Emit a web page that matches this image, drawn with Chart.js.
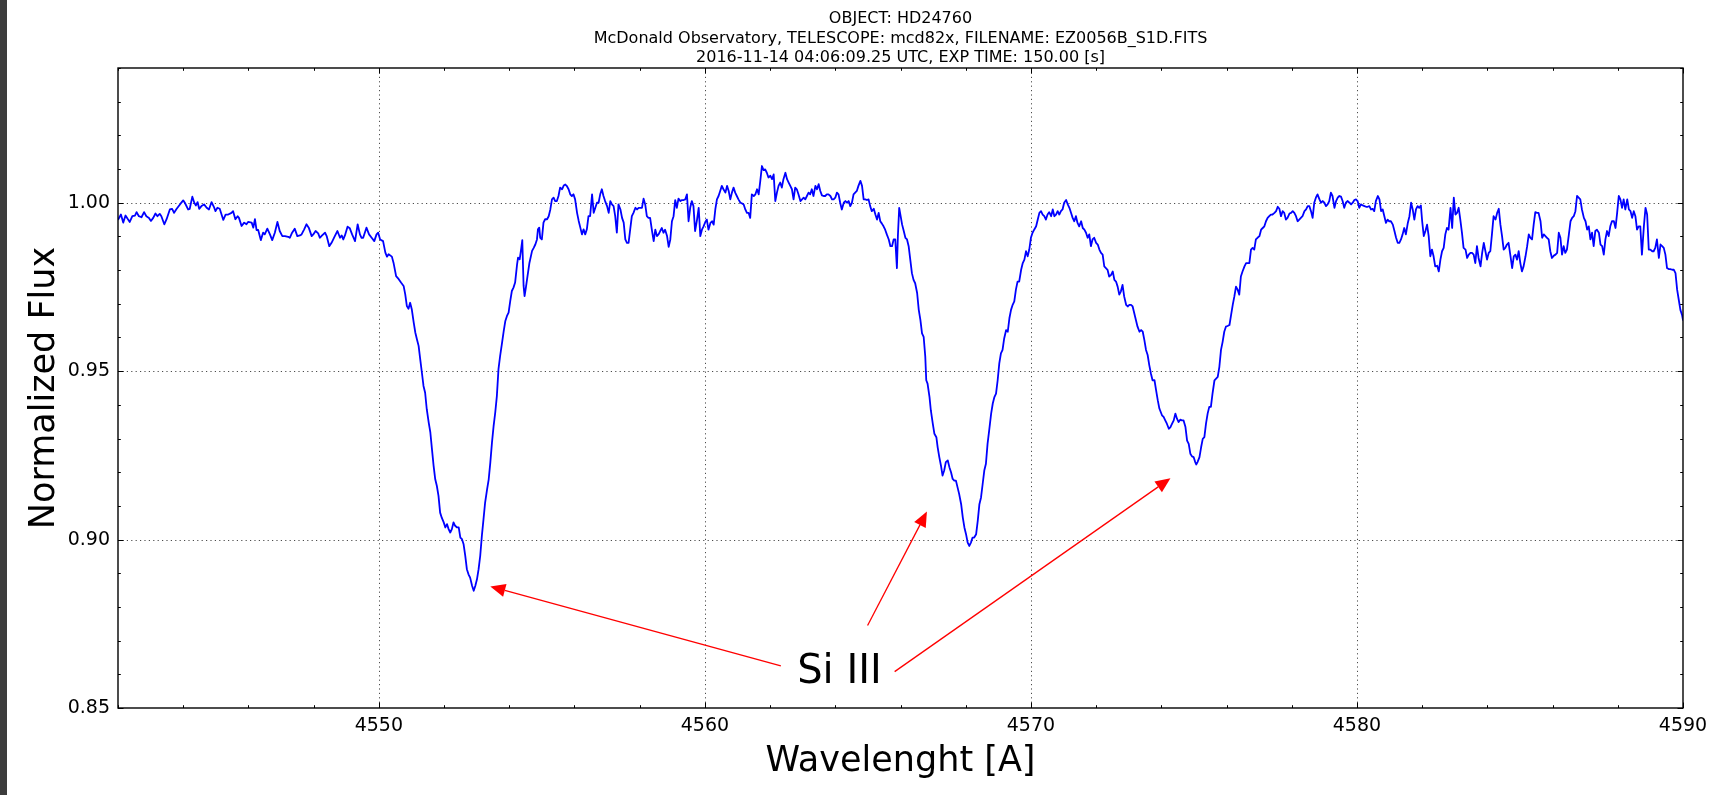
<!DOCTYPE html>
<html><head><meta charset="utf-8">
<script src="https://cdn.jsdelivr.net/npm/chart.js@4.4.0/dist/chart.umd.min.js"></script>
<style>
html,body{margin:0;padding:0;background:#fff;overflow:hidden}
#wrap{position:relative;width:1727px;height:795px}
#strip{position:absolute;left:0;top:0;width:7px;height:795px;background:#3c3c3c}
canvas{position:absolute;left:0;top:0}
</style></head>
<body><div id="wrap"><canvas id="c" width="1727" height="795"></canvas><div id="strip"></div></div>
<script>
// ---------------- DATA ----------------
const wavelengthSeg1 = [4542.01,4542.09,4542.16,4542.23,4542.29,4542.36,4542.44,4542.52,4542.57,4542.64,4542.72,4542.80,4542.87,4542.95,4543.01,4543.08,4543.15,4543.21,4543.28,4543.33,4543.42,4543.49,4543.59,4543.66,4543.72,4543.80,4543.90,4544.00,4544.05,4544.15,4544.20,4544.28,4544.34,4544.39,4544.44,4544.49,4544.56,4544.64,4544.72,4544.79,4544.87,4544.94,4544.99,4545.05,4545.12,4545.23,4545.30,4545.38,4545.48,4545.53,4545.60,4545.67,4545.71,4545.79,4545.87,4545.94,4545.99,4546.10,4546.15,4546.20,4546.25,4546.30,4546.38,4546.45,4546.50,4546.58,4546.66,4546.73,4546.81,4546.89,4546.96,4547.04,4547.12,4547.22,4547.27,4547.34,4547.42,4547.50,4547.58,4547.63,4547.71,4547.78,4547.85,4547.94,4547.99,4548.06,4548.14,4548.19,4548.26,4548.35,4548.40,4548.48,4548.55,4548.65,4548.73,4548.81,4548.86,4548.91,4548.96,4549.04,4549.11,4549.18,4549.27,4549.35,4549.42,4549.47,4549.52,4549.62,4549.70,4549.78,4549.86,4549.93,4549.98];
const fluxSeg1 = [0.9951,0.9965,0.9941,0.9962,0.9953,0.9943,0.9960,0.9962,0.9972,0.9960,0.9957,0.9972,0.9960,0.9955,0.9946,0.9955,0.9968,0.9960,0.9967,0.9960,0.9936,0.9951,0.9980,0.9982,0.9970,0.9982,0.9995,1.0007,1.0000,0.9980,0.9982,1.0018,1.0000,0.9992,1.0002,0.9982,0.9990,0.9995,0.9985,0.9980,1.0002,0.9988,0.9975,0.9985,0.9982,0.9949,0.9965,0.9965,0.9970,0.9975,0.9951,0.9960,0.9955,0.9931,0.9941,0.9936,0.9943,0.9941,0.9926,0.9951,0.9919,0.9919,0.9889,0.9911,0.9906,0.9923,0.9906,0.9889,0.9911,0.9943,0.9916,0.9901,0.9901,0.9899,0.9896,0.9911,0.9923,0.9901,0.9903,0.9906,0.9921,0.9936,0.9926,0.9901,0.9906,0.9916,0.9909,0.9896,0.9903,0.9911,0.9901,0.9871,0.9881,0.9901,0.9916,0.9896,0.9903,0.9891,0.9903,0.9929,0.9924,0.9906,0.9886,0.9936,0.9906,0.9896,0.9896,0.9926,0.9906,0.9896,0.9886,0.9906,0.9911];

const wavelengthSeg2 = [4550.04,4550.13,4550.20,4550.25,4550.30,4550.40,4550.45,4550.53,4550.61,4550.68,4550.76,4550.81,4550.86,4550.91,4550.96,4551.01,4551.07,4551.12,4551.17,4551.22,4551.27,4551.32,4551.37,4551.42,4551.47,4551.53,4551.58,4551.63,4551.68,4551.73,4551.78,4551.83,4551.88,4551.93,4551.99,4552.04,4552.09,4552.14,4552.19,4552.24,4552.29,4552.34,4552.40,4552.45,4552.50,4552.55,4552.60,4552.65,4552.70,4552.75,4552.80,4552.86,4552.91,4552.96,4553.01,4553.06,4553.11,4553.16,4553.21,4553.26,4553.32,4553.37,4553.42,4553.47,4553.52,4553.57,4553.62,4553.67,4553.72,4553.78,4553.83,4553.88,4553.93,4553.98,4554.03,4554.08,4554.13,4554.18,4554.24,4554.27,4554.32,4554.37,4554.40,4554.44,4554.47,4554.51,4554.56,4554.62,4554.70,4554.75,4554.80,4554.85,4554.88,4554.92,4554.95,4555.00,4555.05,4555.10,4555.16,4555.21,4555.26,4555.31,4555.36,4555.41,4555.46,4555.51,4555.56,4555.62,4555.67,4555.72,4555.77,4555.82,4555.87,4555.92,4555.97,4556.02,4556.08,4556.13,4556.18,4556.23,4556.28,4556.33,4556.38,4556.43,4556.48,4556.54,4556.59,4556.64,4556.69,4556.74,4556.79,4556.84,4556.89,4556.94,4557.00,4557.05,4557.10,4557.15,4557.20,4557.25,4557.30,4557.35,4557.41,4557.46,4557.51,4557.56,4557.61,4557.66,4557.71,4557.76,4557.81,4557.87,4557.92,4557.97];
const fluxSeg2 = [0.9891,0.9886,0.9852,0.9840,0.9847,0.9840,0.9822,0.9782,0.9773,0.9763,0.9753,0.9728,0.9693,0.9685,0.9703,0.9684,0.9644,0.9614,0.9594,0.9575,0.9535,0.9496,0.9456,0.9436,0.9387,0.9347,0.9318,0.9268,0.9219,0.9179,0.9159,0.9130,0.9080,0.9065,0.9051,0.9036,0.9046,0.9031,0.9021,0.9031,0.9051,0.9041,0.9036,0.9036,0.9006,0.9001,0.8986,0.8952,0.8912,0.8897,0.8887,0.8863,0.8848,0.8863,0.8882,0.8912,0.8952,0.9011,0.9060,0.9110,0.9149,0.9179,0.9229,0.9288,0.9337,0.9377,0.9426,0.9506,0.9545,0.9585,0.9619,0.9649,0.9664,0.9674,0.9708,0.9738,0.9748,0.9763,0.9817,0.9837,0.9832,0.9866,0.9889,0.9753,0.9723,0.9748,0.9782,0.9822,0.9857,0.9866,0.9876,0.9891,0.9921,0.9926,0.9896,0.9891,0.9941,0.9951,0.9951,0.9960,0.9980,1.0010,1.0015,1.0005,1.0005,1.0020,1.0045,1.0040,1.0051,1.0054,1.0049,1.0040,1.0025,1.0020,1.0025,1.0010,0.9970,0.9946,0.9926,0.9906,0.9921,0.9906,0.9921,0.9960,0.9960,1.0025,0.9970,0.9985,1.0000,1.0000,1.0025,1.0040,1.0020,1.0005,0.9990,0.9970,1.0005,0.9995,0.9990,0.9960,0.9911,0.9995,0.9980,0.9955,0.9941,0.9891,0.9881,0.9881,0.9921,0.9960,0.9970,0.9985,0.9980,0.9985];

const wavelengthSeg3 = [4558.07,4558.12,4558.17,4558.22,4558.27,4558.32,4558.38,4558.43,4558.48,4558.53,4558.58,4558.63,4558.68,4558.73,4558.78,4558.84,4558.89,4558.94,4558.99,4559.04,4559.09,4559.14,4559.19,4559.25,4559.30,4559.35,4559.40,4559.45,4559.50,4559.55,4559.60,4559.65,4559.70,4559.76,4559.81,4559.86,4559.91,4559.96,4560.01,4560.06,4560.11,4560.17,4560.22,4560.27,4560.32,4560.37,4560.42,4560.47,4560.52,4560.57,4560.63,4560.68,4560.73,4560.78,4560.83,4560.88,4560.93,4560.98,4561.03,4561.09,4561.14,4561.19,4561.24,4561.29,4561.34,4561.39,4561.44,4561.50,4561.55,4561.60,4561.65,4561.70,4561.75,4561.80,4561.85,4561.90,4561.95,4562.01,4562.06,4562.11,4562.16,4562.21,4562.26,4562.31,4562.36,4562.41,4562.47,4562.52,4562.57,4562.62,4562.67,4562.72,4562.77,4562.82,4562.87,4562.93,4562.98,4563.03,4563.08,4563.13,4563.18,4563.23,4563.28,4563.33,4563.39,4563.44,4563.49,4563.54,4563.59,4563.64,4563.69,4563.74,4563.79,4563.85,4563.90,4563.95,4564.00,4564.05,4564.10,4564.15,4564.20,4564.26,4564.31,4564.36,4564.41,4564.46,4564.51,4564.56,4564.61,4564.66,4564.71,4564.77,4564.82,4564.87,4564.92,4564.97,4565.02,4565.07,4565.12,4565.18,4565.23,4565.28,4565.33,4565.38,4565.43,4565.48,4565.53,4565.58,4565.64,4565.69,4565.74,4565.79,4565.84,4565.89,4565.92,4565.96];
const fluxSeg3 = [0.9985,1.0012,0.9995,0.9960,0.9955,0.9955,0.9916,0.9886,0.9920,0.9901,0.9906,0.9916,0.9925,0.9911,0.9920,0.9901,0.9869,0.9891,0.9945,0.9960,1.0008,0.9985,1.0012,1.0005,1.0008,1.0008,1.0010,1.0025,0.9945,0.9985,1.0005,0.9990,0.9916,0.9950,0.9985,0.9901,0.9920,0.9930,0.9942,0.9950,0.9920,0.9940,0.9945,0.9935,0.9980,1.0010,1.0020,1.0035,1.0050,1.0040,1.0030,1.0050,1.0035,1.0010,1.0030,1.0045,1.0030,1.0020,1.0010,1.0000,0.9998,0.9995,0.9980,0.9970,0.9970,0.9955,1.0025,1.0020,1.0025,1.0040,1.0025,1.0065,1.0109,1.0097,1.0099,1.0089,1.0075,1.0080,1.0070,1.0084,1.0005,1.0030,1.0050,1.0060,1.0045,1.0070,1.0089,1.0070,1.0060,1.0050,1.0040,1.0010,1.0045,1.0040,1.0025,1.0005,1.0010,1.0015,1.0010,1.0020,1.0030,1.0025,1.0040,1.0020,1.0050,1.0040,1.0055,1.0035,1.0022,1.0020,1.0020,1.0025,1.0025,1.0020,1.0010,1.0010,1.0015,1.0030,1.0025,1.0000,0.9980,1.0000,1.0005,1.0000,1.0005,0.9990,1.0000,1.0025,1.0030,1.0035,1.0050,1.0065,1.0050,1.0010,1.0010,1.0008,1.0010,0.9990,0.9975,0.9982,0.9965,0.9950,0.9970,0.9945,0.9938,0.9930,0.9920,0.9906,0.9891,0.9871,0.9871,0.9891,0.9891,0.9806,0.9901,0.9985];

const wavelengthSeg4 = [4566.05,4566.10,4566.15,4566.20,4566.25,4566.30,4566.35,4566.40,4566.45,4566.51,4566.56,4566.61,4566.66,4566.71,4566.76,4566.79,4566.83,4566.89,4566.93,4566.99,4567.04,4567.10,4567.14,4567.19,4567.24,4567.29,4567.34,4567.39,4567.45,4567.50,4567.55,4567.60,4567.65,4567.70,4567.75,4567.80,4567.86,4567.91,4567.96,4568.01,4568.06,4568.11,4568.16,4568.21,4568.26,4568.32,4568.37,4568.42,4568.47,4568.52,4568.57,4568.62,4568.67,4568.72,4568.78,4568.83,4568.88,4568.93,4568.98,4569.03,4569.08,4569.13,4569.18,4569.24,4569.29,4569.34,4569.39,4569.44,4569.49,4569.54,4569.59,4569.64,4569.70,4569.75,4569.80,4569.85,4569.90,4569.95,4570.00,4570.05,4570.10,4570.16,4570.21,4570.26,4570.31,4570.36,4570.41,4570.46,4570.51,4570.56,4570.62,4570.67,4570.72,4570.77,4570.82,4570.87,4570.92,4570.97,4571.02,4571.08,4571.13,4571.18,4571.23,4571.28,4571.33,4571.38,4571.43,4571.48,4571.54,4571.59,4571.64,4571.69,4571.74,4571.79,4571.84,4571.89,4571.94,4572.00,4572.05,4572.10,4572.15,4572.20,4572.25,4572.30,4572.35,4572.40,4572.46,4572.51,4572.56,4572.61,4572.66,4572.71,4572.76,4572.81,4572.86,4572.92,4572.97,4573.02,4573.07,4573.12,4573.17,4573.22,4573.27,4573.33,4573.38,4573.43,4573.48,4573.53,4573.58,4573.63,4573.68,4573.73,4573.79,4573.84,4573.89,4573.94];
const fluxSeg4 = [0.9935,0.9916,0.9896,0.9891,0.9871,0.9831,0.9791,0.9771,0.9761,0.9732,0.9682,0.9652,0.9612,0.9602,0.9543,0.9473,0.9463,0.9423,0.9384,0.9344,0.9314,0.9304,0.9274,0.9245,0.9220,0.9190,0.9205,0.9230,0.9235,0.9215,0.9200,0.9180,0.9175,0.9175,0.9155,0.9135,0.9105,0.9066,0.9036,0.9016,0.8991,0.8981,0.8991,0.9006,0.9006,0.9016,0.9056,0.9105,0.9125,0.9165,0.9205,0.9225,0.9284,0.9324,0.9374,0.9404,0.9423,0.9433,0.9473,0.9523,0.9553,0.9563,0.9597,0.9622,0.9617,0.9657,0.9682,0.9697,0.9707,0.9742,0.9766,0.9766,0.9801,0.9821,0.9831,0.9856,0.9841,0.9861,0.9896,0.9911,0.9920,0.9930,0.9950,0.9970,0.9975,0.9965,0.9960,0.9950,0.9965,0.9972,0.9960,0.9980,0.9960,0.9965,0.9975,0.9965,0.9975,0.9980,1.0000,1.0008,0.9995,0.9985,0.9970,0.9955,0.9945,0.9960,0.9940,0.9930,0.9945,0.9925,0.9920,0.9911,0.9896,0.9906,0.9871,0.9891,0.9896,0.9881,0.9876,0.9861,0.9851,0.9846,0.9811,0.9806,0.9801,0.9781,0.9786,0.9796,0.9771,0.9766,0.9751,0.9727,0.9737,0.9756,0.9722,0.9697,0.9692,0.9697,0.9697,0.9692,0.9672,0.9652,0.9632,0.9617,0.9622,0.9617,0.9592,0.9563,0.9548,0.9518,0.9493,0.9473,0.9473,0.9443,0.9414,0.9389];

const wavelengthSeg5 = [4574.02,4574.07,4574.12,4574.17,4574.23,4574.28,4574.33,4574.38,4574.43,4574.48,4574.53,4574.58,4574.63,4574.68,4574.74,4574.79,4574.84,4574.89,4574.94,4574.99,4575.04,4575.07,4575.11,4575.17,4575.22,4575.27,4575.32,4575.37,4575.42,4575.47,4575.52,4575.57,4575.63,4575.68,4575.73,4575.78,4575.83,4575.88,4575.93,4575.98,4576.03,4576.09,4576.14,4576.19,4576.24,4576.29,4576.34,4576.39,4576.44,4576.49,4576.55,4576.60,4576.65,4576.70,4576.75,4576.80,4576.85,4576.90,4576.95,4577.01,4577.06,4577.11,4577.16,4577.21,4577.26,4577.31,4577.36,4577.41,4577.47,4577.52,4577.57,4577.62,4577.67,4577.72,4577.77,4577.82,4577.87,4577.93,4577.98,4578.03,4578.08,4578.13,4578.18,4578.23,4578.28,4578.33,4578.39,4578.44,4578.49,4578.54,4578.59,4578.64,4578.69,4578.74,4578.79,4578.85,4578.90,4578.95,4579.00,4579.05,4579.10,4579.15,4579.20,4579.25,4579.31,4579.36,4579.41,4579.46,4579.51,4579.56,4579.61,4579.66,4579.71,4579.77,4579.82,4579.87,4579.92,4579.97,4580.02,4580.07,4580.12,4580.18,4580.23,4580.28,4580.33,4580.38,4580.43,4580.48,4580.53,4580.58,4580.64,4580.69,4580.74,4580.79,4580.84,4580.89,4580.94,4580.99,4581.04,4581.10,4581.15,4581.20,4581.25,4581.30,4581.35,4581.40,4581.45,4581.50,4581.56,4581.61,4581.66,4581.71,4581.76,4581.81,4581.86,4581.91,4581.96];
const fluxSeg5 = [0.9369,0.9364,0.9354,0.9344,0.9329,0.9334,0.9344,0.9354,0.9374,0.9359,0.9349,0.9356,0.9354,0.9354,0.9334,0.9294,0.9284,0.9255,0.9247,0.9245,0.9230,0.9223,0.9230,0.9245,0.9274,0.9299,0.9304,0.9344,0.9374,0.9394,0.9394,0.9433,0.9473,0.9478,0.9483,0.9513,0.9563,0.9587,0.9617,0.9632,0.9634,0.9637,0.9667,0.9697,0.9722,0.9751,0.9742,0.9727,0.9781,0.9796,0.9811,0.9821,0.9821,0.9821,0.9861,0.9866,0.9861,0.9891,0.9896,0.9901,0.9920,0.9925,0.9930,0.9945,0.9955,0.9960,0.9965,0.9965,0.9970,0.9975,0.9988,0.9982,0.9960,0.9975,0.9970,0.9950,0.9955,0.9968,0.9970,0.9975,0.9970,0.9960,0.9945,0.9950,0.9955,0.9960,0.9975,0.9980,0.9990,0.9990,0.9975,0.9955,1.0000,1.0015,1.0025,1.0010,1.0000,1.0005,1.0000,0.9990,0.9995,1.0005,1.0030,1.0020,0.9985,1.0005,1.0015,1.0020,1.0018,1.0005,0.9985,1.0000,1.0005,1.0000,0.9995,1.0000,1.0008,1.0010,1.0005,0.9985,0.9995,0.9992,0.9990,0.9988,0.9988,0.9990,0.9980,0.9982,0.9975,1.0005,1.0020,1.0010,0.9975,0.9980,0.9960,0.9940,0.9950,0.9945,0.9945,0.9935,0.9916,0.9896,0.9881,0.9881,0.9891,0.9906,0.9925,0.9906,0.9940,0.9960,1.0000,0.9980,0.9950,0.9980,0.9990,0.9985,0.9992];

const wavelengthSeg6 = [4582.00,4582.05,4582.10,4582.15,4582.20,4582.25,4582.30,4582.35,4582.40,4582.46,4582.51,4582.56,4582.61,4582.66,4582.71,4582.76,4582.81,4582.87,4582.92,4582.97,4583.02,4583.07,4583.12,4583.17,4583.22,4583.27,4583.33,4583.38,4583.43,4583.48,4583.53,4583.58,4583.63,4583.68,4583.73,4583.79,4583.84,4583.89,4583.94,4583.99,4584.04,4584.09,4584.14,4584.19,4584.25,4584.30,4584.35,4584.40,4584.45,4584.50,4584.55,4584.60,4584.65,4584.71,4584.76,4584.81,4584.86,4584.91,4584.96,4585.01,4585.06,4585.11,4585.17,4585.22,4585.27,4585.32,4585.37,4585.42,4585.47,4585.52,4585.57,4585.63,4585.68,4585.73,4585.78,4585.83,4585.88,4585.93,4585.98,4586.04,4586.09,4586.14,4586.19,4586.24,4586.29,4586.34,4586.39,4586.44,4586.50,4586.55,4586.60,4586.65,4586.70,4586.75,4586.80,4586.85,4586.90,4586.96,4587.01,4587.06,4587.11,4587.16,4587.21,4587.26,4587.31,4587.36,4587.42,4587.47,4587.52,4587.57,4587.62,4587.67,4587.72,4587.77,4587.82,4587.88,4587.93,4587.98,4588.03,4588.08,4588.13,4588.18,4588.23,4588.29,4588.34,4588.39,4588.44,4588.49,4588.54,4588.59,4588.64,4588.69,4588.74,4588.80,4588.85,4588.90,4588.95,4589.00,4589.05,4589.10,4589.15,4589.20,4589.26,4589.31,4589.36,4589.41,4589.46,4589.51,4589.56,4589.61,4589.67,4589.72,4589.77,4589.82,4589.87,4589.92,4589.97,4590.00];
const fluxSeg6 = [0.9945,0.9901,0.9916,0.9935,0.9901,0.9841,0.9861,0.9841,0.9811,0.9813,0.9796,0.9831,0.9856,0.9866,0.9906,0.9925,0.9920,0.9985,0.9925,1.0015,0.9965,0.9970,0.9985,0.9950,0.9911,0.9866,0.9861,0.9836,0.9846,0.9851,0.9851,0.9846,0.9821,0.9871,0.9836,0.9811,0.9851,0.9881,0.9856,0.9831,0.9851,0.9856,0.9906,0.9960,0.9950,0.9970,0.9982,0.9935,0.9901,0.9861,0.9866,0.9876,0.9881,0.9841,0.9806,0.9841,0.9846,0.9831,0.9856,0.9821,0.9796,0.9811,0.9841,0.9871,0.9906,0.9896,0.9891,0.9935,0.9972,0.9970,0.9970,0.9945,0.9896,0.9906,0.9901,0.9896,0.9891,0.9856,0.9836,0.9843,0.9846,0.9851,0.9911,0.9896,0.9846,0.9871,0.9851,0.9861,0.9906,0.9945,0.9955,0.9960,0.9975,1.0020,1.0015,1.0010,0.9980,0.9955,0.9945,0.9920,0.9930,0.9891,0.9911,0.9871,0.9916,0.9920,0.9911,0.9876,0.9871,0.9846,0.9891,0.9916,0.9901,0.9930,0.9945,0.9945,0.9925,0.9970,1.0020,1.0010,0.9985,1.0010,0.9980,1.0010,0.9980,0.9975,0.9955,0.9975,0.9960,0.9920,0.9930,0.9930,0.9846,0.9930,0.9985,0.9965,0.9861,0.9861,0.9856,0.9856,0.9866,0.9891,0.9836,0.9876,0.9871,0.9866,0.9846,0.9806,0.9803,0.9803,0.9801,0.9801,0.9791,0.9742,0.9712,0.9682,0.9667,0.9652];

const xTickValues = [4550, 4560, 4570, 4580, 4590];
const xTickLabels = ['4550', '4560', '4570', '4580', '4590'];
const yTickValues = [0.85, 0.90, 0.95, 1.00];
const yTickLabels = ['0.85', '0.90', '0.95', '1.00'];
const xRange = [4542, 4590];
const yRange = [0.85, 1.04];

const titleLines = [
  'OBJECT: HD24760',
  'McDonald Observatory, TELESCOPE: mcd82x, FILENAME: EZ0056B_S1D.FITS',
  '2016-11-14 04:06:09.25 UTC, EXP TIME: 150.00 [s]'
];
const xAxisTitle = 'Wavelenght [A]';
const yAxisTitle = 'Normalized Flux';

const annotationLabel = 'Si III';
const annotationLabelAt = [4564.13, 0.8575];           // [wavelength, flux]
const arrowTails = [[4562.33, 0.8625], [4564.99, 0.8745], [4565.82, 0.8608]];
const arrowTips  = [[4553.42, 0.8861], [4566.81, 0.9083], [4574.28, 0.9182]];

// ---------------- BUILD ----------------
const segments = [
  [wavelengthSeg1, fluxSeg1], [wavelengthSeg2, fluxSeg2], [wavelengthSeg3, fluxSeg3],
  [wavelengthSeg4, fluxSeg4], [wavelengthSeg5, fluxSeg5], [wavelengthSeg6, fluxSeg6]
];
const points = [];
segments.forEach(([w, f]) => {
  const n = Math.min(w.length, f.length);
  for (let i = 0; i < n; i++) points.push({x: w[i], y: f[i]});
});

const FONT = '"DejaVu Sans", "Bitstream Vera Sans", sans-serif';

function drawArrow(ctx, x0, y0, x1, y1) {
  const ang = Math.atan2(y1 - y0, x1 - x0);
  const hl = 15, hw = 6.5;
  const bx = x1 - hl * Math.cos(ang), by = y1 - hl * Math.sin(ang);
  ctx.beginPath();
  ctx.moveTo(x0, y0); ctx.lineTo(bx, by);
  ctx.stroke();
  ctx.beginPath();
  ctx.moveTo(x1, y1);
  ctx.lineTo(bx + hw * Math.sin(ang), by - hw * Math.cos(ang));
  ctx.lineTo(bx - hw * Math.sin(ang), by + hw * Math.cos(ang));
  ctx.closePath();
  ctx.fill();
}

const framePlugin = {
  id: 'frame',
  beforeDatasetsDraw(chart) {
    const {ctx, chartArea: a, scales: {x, y}} = chart;
    ctx.save();
    ctx.strokeStyle = 'rgba(0,0,0,0.7)';
    ctx.lineWidth = 1;
    ctx.setLineDash([1.2, 3.2]);
    xTickValues.forEach(v => {
      const px = Math.round(x.getPixelForValue(v)) + 0.5;
      if (px > a.left + 2 && px < a.right - 2) {
        ctx.beginPath(); ctx.moveTo(px, a.top); ctx.lineTo(px, a.bottom); ctx.stroke();
      }
    });
    yTickValues.forEach(v => {
      const py = Math.round(y.getPixelForValue(v)) + 0.5;
      if (py > a.top + 2 && py < a.bottom - 2) {
        ctx.beginPath(); ctx.moveTo(a.left, py); ctx.lineTo(a.right, py); ctx.stroke();
      }
    });
    ctx.restore();
  },
  afterDatasetsDraw(chart) {
    const {ctx, chartArea: a, scales: {x, y}} = chart;
    ctx.save();
    // ticks (inward, all four sides)
    ctx.strokeStyle = '#000';
    ctx.lineWidth = 1;
    const maj = 5.5, mnr = 2.8;
    const xt = [];
    for (let v = xRange[0]; v <= xRange[1] + 1e-6; v += 2) xt.push([v, xTickValues.some(t => Math.abs(t - v) < 1e-6)]);
    xt.forEach(([v, isMaj]) => {
      const px = Math.round(x.getPixelForValue(v)) + 0.5;
      const L = isMaj ? maj : mnr;
      ctx.beginPath();
      ctx.moveTo(px, a.bottom); ctx.lineTo(px, a.bottom - L);
      ctx.moveTo(px, a.top); ctx.lineTo(px, a.top + L);
      ctx.stroke();
    });
    for (let k = 0; k <= 19; k++) {
      const v = Math.round((yRange[0] + k * 0.01) * 1000) / 1000;
      const isMaj = yTickValues.some(t => Math.abs(t - v) < 1e-6);
      const py = Math.round(y.getPixelForValue(v)) + 0.5;
      const L = isMaj ? maj : mnr;
      ctx.beginPath();
      ctx.moveTo(a.left, py); ctx.lineTo(a.left + L, py);
      ctx.moveTo(a.right, py); ctx.lineTo(a.right - L, py);
      ctx.stroke();
    }
    // spines
    ctx.lineWidth = 1.4;
    ctx.strokeStyle = '#000';
    ctx.strokeRect(a.left, a.top, a.right - a.left, a.bottom - a.top);

    // annotations
    ctx.strokeStyle = '#ff0000';
    ctx.fillStyle = '#ff0000';
    ctx.lineWidth = 1.3;
    arrowTails.forEach((t, i) => {
      const tip = arrowTips[i];
      drawArrow(ctx, x.getPixelForValue(t[0]), y.getPixelForValue(t[1]),
                     x.getPixelForValue(tip[0]), y.getPixelForValue(tip[1]));
    });
    ctx.fillStyle = '#000';
    ctx.font = '40px ' + FONT;
    ctx.textAlign = 'center';
    ctx.textBaseline = 'alphabetic';
    ctx.fillText(annotationLabel, x.getPixelForValue(annotationLabelAt[0]), y.getPixelForValue(annotationLabelAt[1]));
    ctx.restore();
  },
  afterDraw(chart) {
    const {ctx, chartArea: a} = chart;
    const cx = (a.left + a.right) / 2;
    ctx.save();
    ctx.fillStyle = '#000';
    ctx.textAlign = 'center';
    ctx.textBaseline = 'alphabetic';
    ctx.font = '16px ' + FONT;
    const base = [23.3, 43.3, 61.7];
    titleLines.forEach((t, i) => ctx.fillText(t, cx, base[i]));
    ctx.font = '35px ' + FONT;
    ctx.fillText(xAxisTitle, cx, 771);
    ctx.translate(53.5, (a.top + a.bottom) / 2);
    ctx.rotate(-Math.PI / 2);
    ctx.fillText(yAxisTitle, 0, 0);
    ctx.restore();
  }
};

new Chart(document.getElementById('c'), {
  type: 'line',
  data: {
    datasets: [{
      data: points,
      borderColor: '#0000ff',
      borderWidth: 1.8,
      pointRadius: 0,
      fill: false,
      tension: 0,
      borderJoinStyle: 'round',
      borderCapStyle: 'round'
    }]
  },
  options: {
    responsive: false,
    animation: false,
    devicePixelRatio: 1,
    layout: {padding: {top: 68, right: 44, left: 0, bottom: 0}},
    plugins: {legend: {display: false}, tooltip: {enabled: false}, title: {display: false}},
    scales: {
      x: {
        type: 'linear', min: xRange[0], max: xRange[1],
        afterBuildTicks: s => { s.ticks = xTickValues.map(v => ({value: v})); },
        afterFit: s => { s.height = 87; },
        grid: {display: false, drawTicks: false},
        border: {display: false},
        ticks: {
          autoSkip: false, maxRotation: 0, minRotation: 0, padding: 7,
          color: '#000', font: {family: FONT, size: 19},
          callback: (v, i) => xTickLabels[i]
        }
      },
      y: {
        type: 'linear', min: yRange[0], max: yRange[1],
        afterBuildTicks: s => { s.ticks = yTickValues.map(v => ({value: v})); },
        afterFit: s => { s.width = 118; },
        grid: {display: false, drawTicks: false},
        border: {display: false},
        ticks: {
          autoSkip: false, padding: 8,
          color: '#000', font: {family: FONT, size: 19},
          callback: (v, i) => yTickLabels[i]
        }
      }
    }
  },
  plugins: [framePlugin]
});
</script>
</body></html>
